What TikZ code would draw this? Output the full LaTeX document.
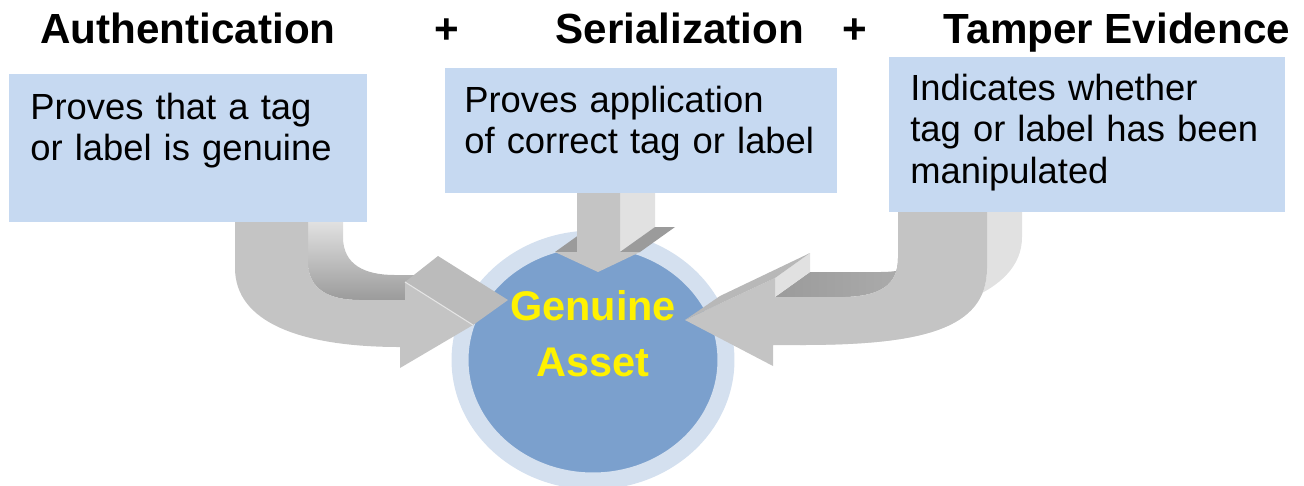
\documentclass[tikz,border=0pt]{standalone}
\usepackage{fontspec}
\setmainfont{Liberation Sans}
\usetikzlibrary{shapes.geometric}

\definecolor{boxblue}{HTML}{C6D9F1}
\definecolor{ringblue}{HTML}{D4E0EF}
\definecolor{assetblue}{HTML}{7BA0CD}
\definecolor{arrowfront}{HTML}{C4C4C4}
\definecolor{arrowtop}{HTML}{BBBBBB}
\definecolor{arrowlight}{HTML}{E1E1E1}
\definecolor{arrowdark}{HTML}{9B9B9B}

\tikzset{
  headtitle/.style={font=\fontsize{24}{28}\selectfont\bfseries, anchor=base, inner sep=0pt},
  descbox/.style={fill=boxblue, anchor=north west, inner sep=0pt},
  desctext/.style={font=\fontsize{20.7}{23.8}\selectfont, anchor=base west, text width=8cm, align=left, inner sep=0pt},
  assetnode/.style={ellipse, fill=assetblue, draw=ringblue, line width=0.34cm, inner sep=0pt},
  assettext/.style={font=\fontsize{23.6}{32.3}\selectfont\bfseries, text=yellow, anchor=base, text width=6cm, align=center, inner sep=0pt}
}

\begin{document}
\begin{tikzpicture}[x=0.02cm,y=-0.02cm]
\useasboundingbox (0,0) rectangle (1304,485);

% Le disque
\node[assetnode, minimum width=5.32cm, minimum height=4.84cm] (asset) at (593,360) {};

% Fleche de gauche
\shade[top color=arrowlight, middle color=arrowlight!60!arrowdark, bottom color=arrowdark] (308,222) -- (308,262)
    .. controls (308,290) and (330,300) .. (360,300) -- (405,300) -- (440,275) -- (395,275)
    .. controls (365,275) and (343,265) .. (343,237) -- (343,222) -- cycle;
\fill[arrowfront] (235,222) -- (235,268)
    .. controls (235,322) and (300,347) .. (400,347) -- (400,368) -- (473,325)
    -- (405,282) -- (405,300) -- (360,300)
    .. controls (330,300) and (308,290) .. (308,262) -- (308,222) -- cycle;
\fill[arrowtop] (405,282) -- (438,256) -- (508,300) -- (473,325) -- cycle;
\draw[white!80!gray, line width=0.6pt] (405,282) -- (473,325);

% Fleche du milieu
\fill[arrowdark] (555,252) -- (590,227) -- (612,227) -- (577,252) -- cycle;
\fill[arrowlight] (620,193) -- (620,252) -- (655,227) -- (655,193) -- cycle;
\fill[arrowdark] (620,252) -- (640,252) -- (675,227) -- (655,227) -- cycle;
\fill[arrowfront] (577,193) -- (577,252) -- (555,252) -- (598,272) -- (640,252) -- (620,252) -- (620,193) -- cycle;

% Fleche de droite
\fill[arrowlight] (987,211) -- (987,268)
    .. controls (987,330) and (920,345) .. (800,345) -- (835,320)
    .. controls (935,320) and (1022,295) .. (1022,237) -- (1022,211) -- cycle;
\shade[left color=arrowdark, right color=arrowdark!80!white] (775,297) -- (845,297)
    .. controls (880,296) and (898,285) .. (898,258) -- (898,211) -- (933,211) -- (933,233)
    .. controls (933,260) and (915,272) .. (880,272) -- (810,272) -- cycle;
\fill[arrowlight] (775,278) -- (810,253) -- (810,272) -- (775,297) -- cycle;
\fill[arrowfront] (685,320) -- (775,278) -- (775,297) -- (845,297)
    .. controls (880,296) and (898,285) .. (898,258) -- (898,211) -- (987,211) -- (987,268)
    .. controls (987,330) and (920,345) .. (800,345) -- (773,345) -- (773,366) -- cycle;
\fill[arrowtop!105!white] (685,320) -- (775,278) -- (810,253) -- (720,296) -- cycle;

% Les boites
\node[descbox, minimum width=7.16cm, minimum height=2.96cm] (authbox) at (9,74) {};
\node[descbox, minimum width=7.84cm, minimum height=2.5cm] (serbox) at (445,68) {};
\node[descbox, minimum width=7.92cm, minimum height=3.1cm] (tampbox) at (889,57) {};

\node[desctext] (authtext) at (30,119) {Proves that a tag\\or label is genuine};
\node[desctext] (sertext) at (464,112) {Proves application\\of correct tag or label};
\node[desctext] (tamptext) at (910,100) {Indicates whether\\tag or label has been\\manipulated};

% Les titres
\node[headtitle] (auth) at (188,43) {Authentication};
\node[headtitle] (plusa) at (447,43) {+};
\node[headtitle] (ser) at (680,43) {Serialization};
\node[headtitle] (plusb) at (855,43) {+};
\node[headtitle] (tamp) at (1117,43) {Tamper Evidence};

\node[assettext] (assetlabel) at (593,320) {Genuine\\Asset};

\end{tikzpicture}
\end{document}
